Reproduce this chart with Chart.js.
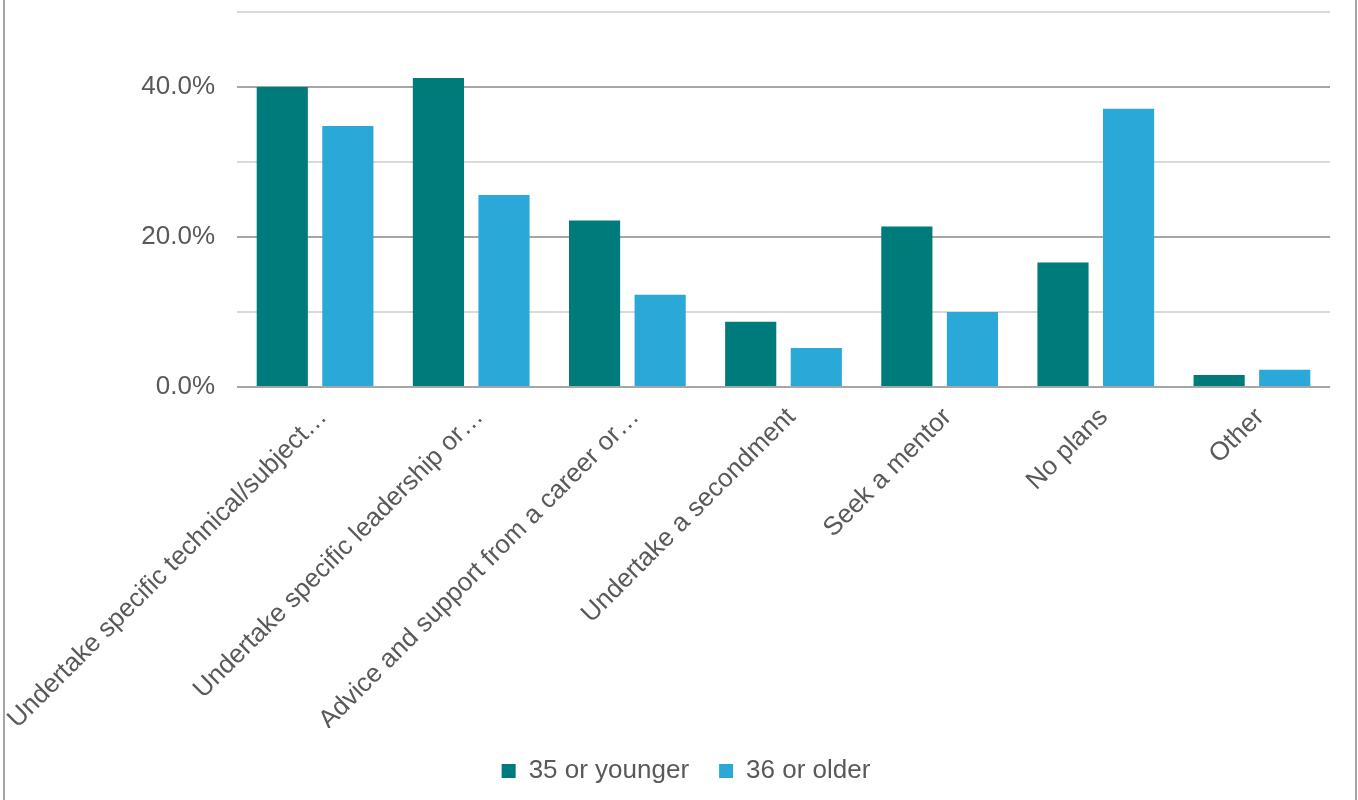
<!DOCTYPE html>
<html>
<head>
<meta charset="utf-8">
<script src="https://cdn.jsdelivr.net/npm/chart.js@4.4.1/dist/chart.umd.min.js"></script>
<style>
  body { margin: 0; background: #fff; }
  #wrap { position: relative; width: 1358px; height: 800px; overflow: hidden; }
  #frame {
    position: absolute; left: 3px; right: 1px; top: -10px; bottom: -10px;
    border-left: 2px solid #a6a6a6; border-right: 2px solid #a6a6a6;
    pointer-events: none;
  }
</style>
</head>
<body>
<div id="wrap">
  <canvas id="chart" width="1358" height="800"></canvas>
  <div id="frame"></div>
</div>
<script>
"use strict";
// data
const categories = [
  "Undertake specific technical/subject\u2026",
  "Undertake specific leadership or\u2026",
  "Advice and support from a career or\u2026",
  "Undertake a secondment",
  "Seek a mentor",
  "No plans",
  "Other",
];
const seriesNames = ["35 or younger", "36 or older"];
const younger = [40.0, 41.2, 22.2, 8.7, 21.4, 16.6, 1.6];
const older = [34.8, 25.6, 12.3, 5.2, 10.0, 37.1, 2.3];
const yTicks = [0, 20, 40];

const textColor = "#595959";
const fontFamily = "'Liberation Sans', Arial, sans-serif";

const ctx = document.getElementById("chart");
const chart = new Chart(ctx, {
  type: "bar",
  data: {
    labels: categories,
    datasets: [
      {
        label: seriesNames[0],
        data: younger,
        backgroundColor: "#007b7b",
        borderWidth: 0,
      },
      {
        label: seriesNames[1],
        data: older,
        backgroundColor: "#2aa8d8",
        borderWidth: 0,
      },
    ],
  },
  options: {
    responsive: false,
    animation: false,
    categoryPercentage: 0.84,
    barPercentage: 0.78,
    layout: { padding: { top: 12, right: 28, left: 42, bottom: 6 } },
    plugins: {
      tooltip: { enabled: false },
      legend: {
        position: "bottom",
        labels: {
          color: textColor,
          font: { size: 26, family: fontFamily },
          boxWidth: 14,
          boxHeight: 14,
          padding: 30,
        },
      },
    },
    scales: {
      x: {
        afterFit: (scale) => {
          scale.height = 341;
          scale.paddingLeft = 0;
          scale.paddingRight = 0;
        },
        grid: { display: false },
        border: { display: false },
        ticks: {
          color: textColor,
          font: { size: 26, family: fontFamily },
          maxRotation: 45,
          minRotation: 45,
          autoSkip: false,
          padding: 7,
          labelOffset: 8,
        },
      },
      y: {
        min: 0,
        max: 50,
        afterFit: (scale) => {
          scale.width = 195;
          scale.paddingTop = 0;
          scale.paddingBottom = 0;
        },
        border: { display: false },
        grid: {
          drawTicks: false,
          lineWidth: 2,
          color: (c) => (yTicks.includes(c.tick.value) ? "#a6a6a6" : "#d9d9d9"),
        },
        ticks: {
          stepSize: 10,
          padding: 22,
          color: textColor,
          font: { size: 26, family: fontFamily },
          callback: (v) => (yTicks.includes(v) ? v.toFixed(1) + "%" : ""),
        },
      },
    },
  },
});
</script>
</body>
</html>
